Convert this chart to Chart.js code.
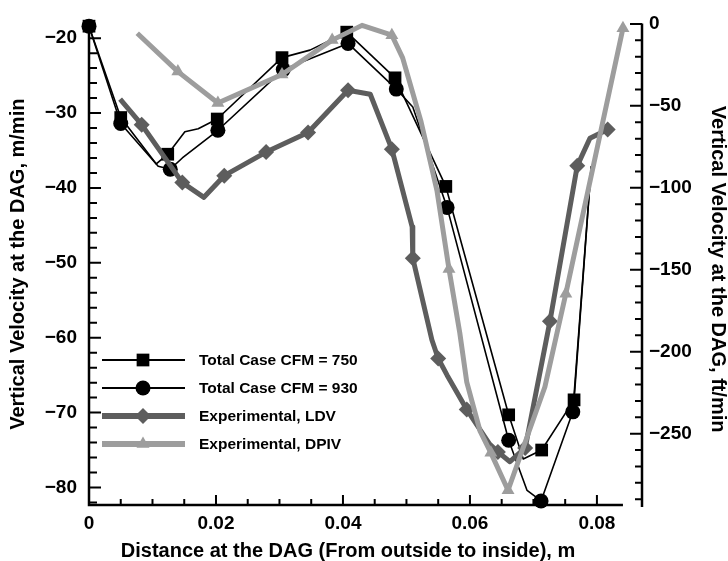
<!DOCTYPE html>
<html>
<head>
<meta charset="utf-8">
<script src="https://cdn.jsdelivr.net/npm/chart.js@4.4.1/dist/chart.umd.min.js"></script>
<style>
html,body{margin:0;padding:0;background:#fff;}
#wrap{width:728px;height:561px;}
</style>
</head>
<body>
<div id="wrap"><canvas id="c" width="728" height="561"></canvas></div>
<script>
// ---- tick labels ----
const xTicks = [0, 0.02, 0.04, 0.06, 0.08];
const yLeftTicks = [-20, -30, -40, -50, -60, -70, -80];
const yRightTicks = [0, -50, -100, -150, -200, -250];

// ---- series (x in m; CFD in m/min, experiments in ft/min) ----
const cfm750X = [0, 0.0050, 0.0106, 0.0124, 0.0151, 0.0172, 0.0202, 0.0304, 0.0348, 0.0406, 0.0482, 0.0562, 0.0661, 0.0684, 0.0713, 0.0764, 0.0791];
const cfm750Y = [-18.4, -30.6, -36.8, -35.5, -32.5, -32.1, -30.8, -22.6, -21.6, -19.2, -25.3, -39.8, -70.3, -76.2, -75.0, -68.3, -37.1];
const cfm750Sym = [1, 1, 0, 1, 0, 0, 1, 1, 0, 1, 1, 1, 1, 0, 1, 1, 0];

const cfm930X = [0, 0.0050, 0.0109, 0.0128, 0.0147, 0.0203, 0.0306, 0.0408, 0.0484, 0.0510, 0.0564, 0.0661, 0.0690, 0.0712, 0.0762, 0.0791];
const cfm930Y = [-18.4, -31.4, -37.1, -37.5, -36.0, -32.3, -24.2, -20.7, -26.8, -29.2, -42.6, -73.7, -80.4, -81.8, -69.9, -37.1];
const cfm930Sym = [1, 1, 0, 1, 0, 1, 1, 1, 1, 0, 1, 1, 0, 1, 1, 0];

const ldvX = [0.0049, 0.0083, 0.0147, 0.0181, 0.0213, 0.0279, 0.0345, 0.0408, 0.0443, 0.0477, 0.0509, 0.0510, 0.0540, 0.0550, 0.0564, 0.0595, 0.0631, 0.0644, 0.0663, 0.0687, 0.0726, 0.0769, 0.0789, 0.0817];
const ldvY = [-45.9, -61.5, -96.8, -105.8, -92.6, -78.2, -66.2, -40.5, -42.9, -76.4, -123.8, -143.0, -192.7, -204.1, -214.3, -235.3, -256.3, -261.1, -267.1, -258.7, -181.4, -86.6, -69.8, -64.4];
const ldvSym = [0, 1, 1, 0, 1, 1, 1, 1, 0, 1, 0, 1, 0, 1, 0, 1, 0, 1, 0, 1, 1, 1, 0, 1];

const dpivX = [0.0076, 0.0140, 0.0203, 0.0304, 0.0383, 0.0430, 0.0477, 0.0494, 0.0523, 0.0548, 0.0567, 0.0584, 0.0595, 0.0616, 0.0633, 0.0660, 0.0718, 0.0751, 0.0841];
const dpivY = [-5.7, -29.1, -48.3, -30.9, -9.9, -0.9, -6.9, -20.7, -59.7, -101.6, -149.6, -188.5, -218.5, -248.5, -261.7, -284.5, -221.5, -164.6, -2.7];
const dpivSym = [0, 1, 1, 1, 1, 0, 1, 0, 0, 0, 1, 0, 0, 0, 1, 1, 0, 1, 1];

const seriesNames = ['Total Case CFM = 750', 'Total Case CFM = 930', 'Experimental, LDV', 'Experimental, DPIV'];

// axis ranges
const X_MIN = 0, X_MAX = 0.0871, X_LINE_END = 0.0841;
const YL_MIN = -82.34, YL_MAX = -18.03;
const YR_MIN = -293.5, YR_MAX = 0.3;

const FONT = "'Liberation Sans', Arial, Helvetica, sans-serif";
const BLACK = '#000000', DARK = '#5d5d5d', LIGHT = '#9d9d9d';

function pts(xs, ys) { return xs.map((x, i) => ({x: x, y: ys[i]})); }
function minusFmt(v) { return v < 0 ? '\u2212' + Math.abs(v) : String(v); }

const axesPlugin = {
  id: 'frameAxes',
  afterLayout(chart) {
    // centre the axis titles where the reference has them
    chart.scales.x.right -= 35;
    chart.scales.yR.top += 10;
  },
  beforeDatasetsDraw(chart) {
    const {ctx, chartArea: ca} = chart;
    const x = chart.scales.x, yL = chart.scales.yL, yR = chart.scales.yR;
    ctx.save();
    ctx.strokeStyle = '#000';
    ctx.lineCap = 'butt';
    ctx.lineWidth = 2.5;
    ctx.beginPath();
    ctx.moveTo(ca.left - 1.25, ca.bottom);
    ctx.lineTo(x.getPixelForValue(X_LINE_END), ca.bottom);
    ctx.moveTo(ca.left, ca.bottom + 1.25);
    ctx.lineTo(ca.left, ca.top + 4);
    ctx.moveTo(ca.right, ca.bottom + 2);
    ctx.lineTo(ca.right, ca.top);
    ctx.stroke();
    ctx.lineWidth = 2;
    ctx.beginPath();
    for (let i = 0; i <= 16; i++) {
      const px = x.getPixelForValue(i * 0.005);
      const len = i % 4 === 0 ? 10 : 6;
      ctx.moveTo(px, ca.bottom);
      ctx.lineTo(px, ca.bottom - len);
    }
    for (let i = 0; i <= 31; i++) {
      const py = yL.getPixelForValue(-20 - 2 * i);
      const len = i % 5 === 0 ? 12 : 8;
      ctx.moveTo(ca.left, py);
      ctx.lineTo(ca.left + len, py);
    }
    for (let i = 0; i <= 29; i++) {
      const py = yR.getPixelForValue(-10 * i);
      const len = i % 5 === 0 ? 12 : 7;
      ctx.moveTo(ca.right, py);
      ctx.lineTo(ca.right - len, py);
    }
    ctx.stroke();
    ctx.restore();
  }
};

function drawMarker(ctx, style, r, cx, cy) {
  ctx.beginPath();
  if (style === 'circle') {
    ctx.arc(cx, cy, r, 0, Math.PI * 2);
  } else if (style === 'rect') {
    const s = Math.SQRT1_2 * r;
    ctx.rect(cx - s, cy - s, 2 * s, 2 * s);
  } else if (style === 'rectRot') {
    ctx.moveTo(cx, cy - r); ctx.lineTo(cx + r, cy); ctx.lineTo(cx, cy + r); ctx.lineTo(cx - r, cy); ctx.closePath();
  } else if (style === 'triangle') {
    ctx.moveTo(cx, cy - r);
    ctx.lineTo(cx + Math.cos(Math.PI / 6) * r, cy + Math.sin(Math.PI / 6) * r);
    ctx.lineTo(cx - Math.cos(Math.PI / 6) * r, cy + Math.sin(Math.PI / 6) * r);
    ctx.closePath();
  }
  ctx.fill();
}

const legendPlugin = {
  id: 'inlineLegend',
  afterDatasetsDraw(chart) {
    const {ctx, chartArea: ca} = chart;
    const order = [3, 2, 1, 0]; // dataset indices in legend order
    ctx.save();
    order.forEach((di, row) => {
      const ds = chart.data.datasets[di];
      const y = 360 + row * 28;
      const x1 = ca.left + 13, x2 = ca.left + 96, xm = ca.left + 54, xt = ca.left + 110;
      ctx.strokeStyle = ds.borderColor;
      ctx.lineWidth = ds.legendWidth;
      ctx.lineCap = 'butt';
      ctx.beginPath();
      ctx.moveTo(x1, y); ctx.lineTo(x2, y);
      ctx.stroke();
      ctx.fillStyle = ds.pointBackgroundColor;
      drawMarker(ctx, ds.pointStyle, ds.markerR, xm, y);
      ctx.fillStyle = '#000';
      ctx.font = 'bold 15.5px ' + FONT;
      ctx.textAlign = 'left';
      ctx.textBaseline = 'middle';
      ctx.fillText(ds.label, xt, y + 1);
    });
    ctx.restore();
  }
};

function symRadius(sym, r) { return c => (sym[c.dataIndex] ? r : 0); }

const datasets = [
  { label: seriesNames[3], data: pts(dpivX, dpivY), yAxisID: 'yR', order: 0,
    borderColor: LIGHT, backgroundColor: LIGHT, pointBackgroundColor: LIGHT, borderWidth: 5, legendWidth: 6,
    pointStyle: 'triangle', markerR: 7.5, pointRadius: symRadius(dpivSym, 7.5), pointBorderWidth: 0 },
  { label: seriesNames[2], data: pts(ldvX, ldvY), yAxisID: 'yR', order: 1,
    borderColor: DARK, backgroundColor: DARK, pointBackgroundColor: DARK, borderWidth: 5, legendWidth: 6,
    pointStyle: 'rectRot', markerR: 8, pointRadius: symRadius(ldvSym, 8), pointBorderWidth: 0 },
  { label: seriesNames[1], data: pts(cfm930X, cfm930Y), yAxisID: 'yL', order: 2,
    borderColor: BLACK, backgroundColor: BLACK, pointBackgroundColor: BLACK, borderWidth: 1.6, legendWidth: 2,
    pointStyle: 'circle', markerR: 7.5, pointRadius: symRadius(cfm930Sym, 7.5), pointBorderWidth: 0 },
  { label: seriesNames[0], data: pts(cfm750X, cfm750Y), yAxisID: 'yL', order: 3,
    borderColor: BLACK, backgroundColor: BLACK, pointBackgroundColor: BLACK, borderWidth: 1.6, legendWidth: 2,
    pointStyle: 'rect', markerR: 9, pointRadius: symRadius(cfm750Sym, 9), pointBorderWidth: 0 }
];
datasets.forEach(d => { d.showLine = true; d.tension = 0; d.clip = false; d.borderJoinStyle = 'round'; d.pointHoverRadius = d.pointRadius; });

const tickFont = { family: FONT, size: 19, weight: 'bold' };
const titleFont = { family: FONT, size: 20, weight: 'bold', lineHeight: 1 };

new Chart(document.getElementById('c'), {
  type: 'scatter',
  data: { datasets: datasets },
  plugins: [axesPlugin, legendPlugin],
  options: {
    responsive: false,
    devicePixelRatio: 1,
    animation: false,
    events: [],
    layout: { padding: { top: 15, left: 0, right: 0, bottom: 0 } },
    plugins: { legend: { display: false }, tooltip: { enabled: false } },
    scales: {
      x: {
        type: 'linear', position: 'bottom', min: X_MIN, max: X_MAX,
        grid: { display: false, drawTicks: false, tickLength: 0 }, border: { display: false },
        afterBuildTicks: s => { s.ticks = xTicks.map(v => ({ value: v })); },
        afterFit: s => { s.height = 56; },
        ticks: { padding: 7, color: '#000', font: tickFont, maxRotation: 0, autoSkip: false,
                 callback: v => (v === 0 ? '0' : v.toFixed(2)) },
        title: { display: true, text: 'Distance at the DAG (From outside to inside), m', color: '#000',
                 font: titleFont, padding: { top: 0, bottom: 0 } }
      },
      yL: {
        type: 'linear', position: 'left', min: YL_MIN, max: YL_MAX,
        grid: { display: false, drawTicks: false, tickLength: 0 }, border: { display: false },
        afterBuildTicks: s => { s.ticks = yLeftTicks.map(v => ({ value: v })); },
        afterFit: s => { s.width = 89; },
        ticks: { padding: 12, color: '#000', font: tickFont, autoSkip: false, callback: v => minusFmt(v) },
        title: { display: true, text: 'Vertical Velocity at the DAG, m/min', color: '#000',
                 font: titleFont, padding: { top: 8.5, bottom: 0 } }
      },
      yR: {
        type: 'linear', position: 'right', min: YR_MIN, max: YR_MAX,
        grid: { display: false, drawTicks: false, tickLength: 0 }, border: { display: false },
        afterBuildTicks: s => { s.ticks = yRightTicks.map(v => ({ value: v })); },
        afterFit: s => { s.width = 86; },
        ticks: { padding: 7, color: '#000', font: tickFont, autoSkip: false, callback: v => minusFmt(v) },
        title: { display: true, text: 'Vertical Velocity at the DAG, ft/min', color: '#000',
                 font: titleFont, padding: { top: 0, bottom: 0 } }
      }
    }
  }
});
</script>
</body>
</html>
